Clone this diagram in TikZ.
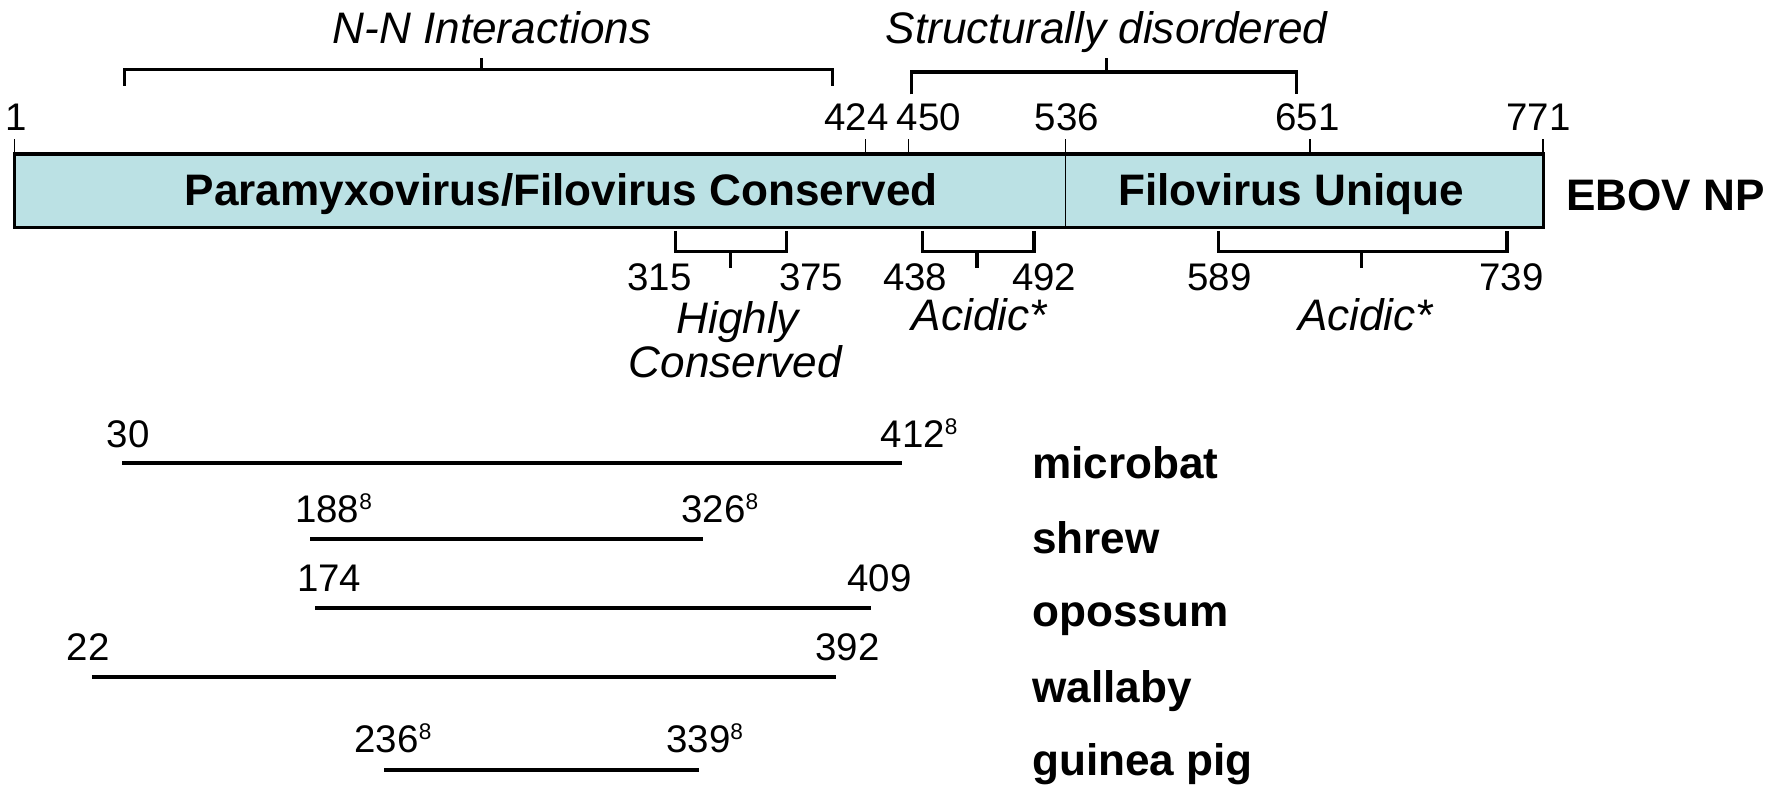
\documentclass[tikz,border=0pt]{standalone}
\usepackage{fontspec}
\setmainfont{Liberation Sans}
\usetikzlibrary{positioning,calc}
\definecolor{npblue}{RGB}{187,225,228}
\newcommand{\refmark}[1]{\raisebox{5.6pt}{\fontsize{10}{12}\selectfont #1}}
\tikzset{
resnum/.style={font=\fontsize{17}{20}\selectfont, inner sep=0pt, anchor=base},
feature/.style={font=\fontsize{19.5}{23}\selectfont\itshape, inner sep=0pt, anchor=base},
npregion/.style={font=\fontsize{19.5}{23}\selectfont\bfseries, inner sep=0pt, anchor=base},
host/.style={font=\fontsize{19.5}{23}\selectfont\bfseries, inner sep=0pt, anchor=base west},
bracket/.style={line width=1.4pt},
marker/.style={line width=0.65pt},
fragment/.style={line width=1.8pt}
}

\begin{document}
\begin{tikzpicture}[x=0.5pt,y=-0.5pt]
  \useasboundingbox (0,0) rectangle (1568,707.3);

  \draw[fill=npblue,line width=1.45pt] (12.7,136) rectangle (1364,201);
  \draw[marker] (941.6,136) -- (941.6,201);
  \node[npregion] (pfc) at (496,182) {Paramyxovirus/Filovirus Conserved};
  \node[npregion] (fu) at (1141,182) {Filovirus Unique};
  \node[npregion,anchor=base west] (ebov) at (1384,186) {EBOV NP};

  \node[resnum] (n1) at (14.6,115.3) {1};
  \node[resnum] (n424) at (757,115.3) {424};
  \node[resnum] (n450) at (821,115.3) {450};
  \node[resnum] (n536) at (943,115.3) {536};
  \node[resnum] (n651) at (1155.5,115.3) {651};
  \node[resnum] (n771) at (1360,115.3) {771};
  \draw[marker] (12.7,123) -- (12.7,136);
  \draw[marker] (764.8,123) -- (764.8,136);
  \draw[marker] (802.9,123) -- (802.9,136);
  \draw[marker] (941.6,123) -- (941.6,136);
  \draw[marker] (1157.8,123) -- (1157.8,136);
  \draw[marker] (1364,123) -- (1364,136);

  \draw[bracket] (110,76) -- (110,61.6) -- (736,61.6) -- (736,76);
  \draw[bracket] (425.4,61.6) -- (425.4,51.5);
  \node[feature] (nn) at (435,38.5) {N-N Interactions};
  \draw[bracket] (805.8,83.4) -- (805.8,63.7) -- (1145.6,63.7) -- (1145.6,83.4);
  \draw[bracket] (978,63.7) -- (978,51.5);
  \node[feature] (sd) at (978,38.5) {Structurally disordered};

  \draw[bracket] (597.4,204) -- (597.4,222.5) -- (695.4,222.5) -- (695.4,204);
  \draw[bracket] (645.6,222.5) -- (645.6,237);
  \draw[bracket] (815,204) -- (815,222.5) -- (913.9,222.5) -- (913.9,204);
  \draw[bracket] (863.5,222.5) -- (863.5,237);
  \draw[bracket] (1077,204) -- (1077,222.5) -- (1332,222.5) -- (1332,204);
  \draw[bracket] (1203.4,222.5) -- (1203.4,237);
  \node[resnum] (n315) at (582.8,257) {315};
  \node[resnum] (n375) at (717,257) {375};
  \node[resnum] (n438) at (809,257) {438};
  \node[resnum] (n492) at (923,257) {492};
  \node[resnum] (n589) at (1078,257) {589};
  \node[resnum] (n739) at (1336,257) {739};
  \node[feature] (hc1) at (652,294.5) {Highly};
  \node[feature] (hc2) at (650,334) {Conserved};
  \node[feature] (ac1) at (865.6,292.5) {Acidic*};
  \node[feature] (ac2) at (1207,292.5) {Acidic*};

  \coordinate (mb-s) at (108.2,409);
  \coordinate (mb-e) at (797,409);
  \coordinate (sh-s) at (274,476);
  \coordinate (sh-e) at (621,476);
  \coordinate (op-s) at (278.7,537);
  \coordinate (op-e) at (770,537);
  \coordinate (wa-s) at (81.2,598);
  \coordinate (wa-e) at (739,598);
  \coordinate (gp-s) at (339.6,680.2);
  \coordinate (gp-e) at (617.6,680.2);
  \draw[fragment] (mb-s) -- (mb-e);
  \draw[fragment] (sh-s) -- (sh-e);
  \draw[fragment] (op-s) -- (op-e);
  \draw[fragment] (wa-s) -- (wa-e);
  \draw[fragment] (gp-s) -- (gp-e);

  \node[resnum] (mb30) at (113.3,395.5) {30};
  \node[resnum,anchor=base west] (mb412) at (778,395.5) {412\refmark{8}};
  \node[resnum,anchor=base west] (sh188) at (260.5,461.5) {188\refmark{8}};
  \node[resnum,anchor=base west] (sh326) at (602,461.5) {326\refmark{8}};
  \node[resnum] (op174) at (291,523) {174};
  \node[resnum] (op409) at (777.5,523) {409};
  \node[resnum] (wa22) at (77.8,584) {22};
  \node[resnum] (wa392) at (749,584) {392};
  \node[resnum,anchor=base west] (gp236) at (313,665) {236\refmark{8}};
  \node[resnum,anchor=base west] (gp339) at (588.5,665) {339\refmark{8}};

  \node[host] (microbat) at (912,423) {microbat};
  \node[host] (shrew) at (912,489) {shrew};
  \node[host] (opossum) at (912,554) {opossum};
  \node[host] (wallaby) at (912,620.6) {wallaby};
  \node[host] (guineapig) at (912,685) {guinea pig};
\end{tikzpicture}
\end{document}
